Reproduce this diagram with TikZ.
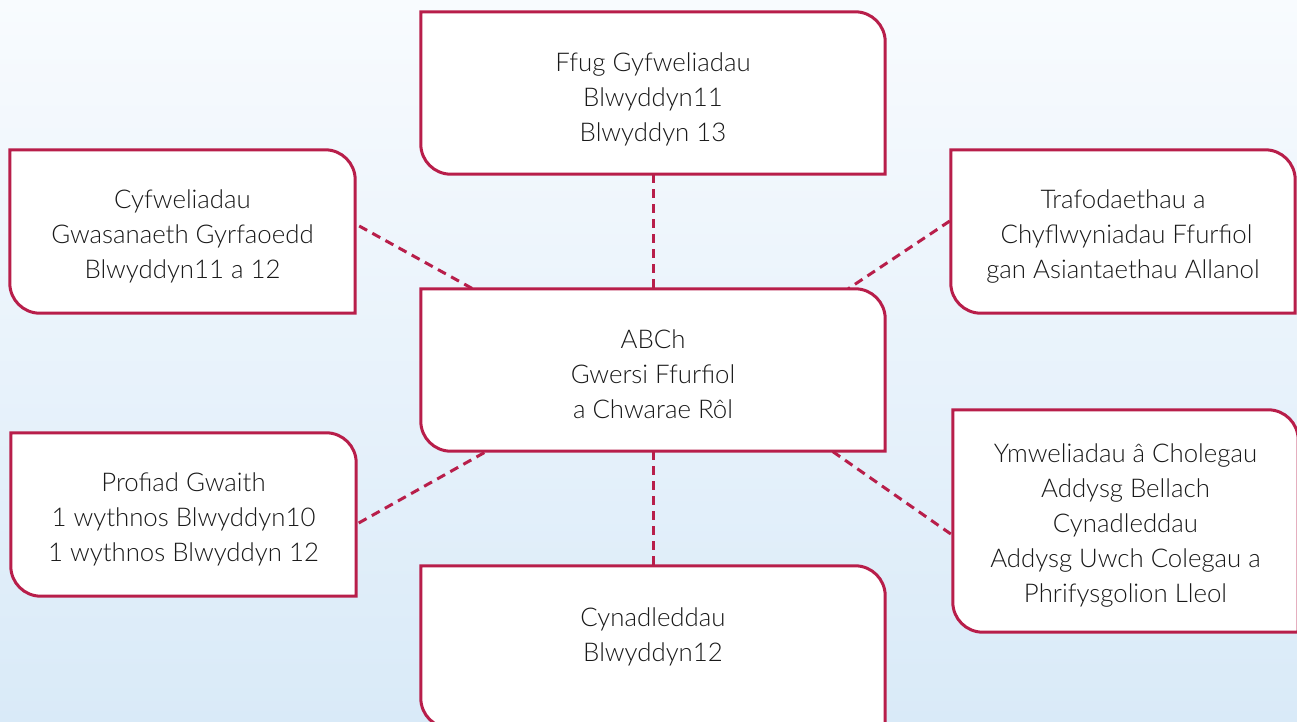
\documentclass[tikz,border=0pt]{standalone}
\usepackage{fontspec}
\setmainfont{Lato Light}
\usetikzlibrary{calc,backgrounds}
\pgfdeclarelayer{back0}
\pgfsetlayers{back0,background,main}
\definecolor{crim}{RGB}{184,30,74}
\definecolor{bgtop}{RGB}{248,251,254}
\definecolor{bgbot}{RGB}{217,234,248}
\definecolor{txt}{RGB}{25,25,25}
\newcommand\tstrut{\rule{0pt}{28pt}}
\tikzset{
  box/.style={draw=none, align=center, text=txt, inner sep=0pt,
    font=\fontsize{25.8}{35}\selectfont},
  outline/.style={draw=crim, line width=3pt, fill=white},
  link/.style={draw=crim, line width=3pt, dash pattern=on 9pt off 6pt},
}
\newcommand\boxpath[1]{%
  \path[outline] (#1.north west) -- ($(#1.north east)+(-30pt,0)$)
    arc[start angle=90,end angle=0,radius=30pt] -- (#1.south east)
    -- ($(#1.south west)+(30pt,0)$)
    arc[start angle=270,end angle=180,radius=30pt] -- cycle;}
\begin{document}
\begin{tikzpicture}[x=1pt,y=-1pt]
\useasboundingbox (0,0) rectangle (1297,722);
\begin{pgfonlayer}{back0}
\shade[top color=bgtop, bottom color=bgbot] (0,0) rectangle (1297,722);
\end{pgfonlayer}
\node[box, minimum width=464pt, minimum height=162pt] (top) at (653,93) {\rule{0pt}{31pt}Ffug Gyfweliadau\\Blwyddyn11\\Blwyddyn 13};
\node[box, minimum width=345pt, minimum height=163pt] (l1) at (182.5,231.5) {\rule{0pt}{29pt}Cyfweliadau\\Gwasanaeth Gyrfaoedd\\Blwyddyn11 a 12};
\node[box, minimum width=344pt, minimum height=163pt] (r1) at (1123,231.5) {\rule{0pt}{29pt}Trafodaethau a\\\ Chyflwyniadau Ffurfiol\\gan Asiantaethau Allanol};
\node[box, minimum width=464pt, minimum height=162pt] (ctr) at (653,370) {\tstrut ABCh\\Gwersi Ffurfiol\\a Chwarae Rôl};
\node[box, minimum width=345pt, minimum height=163pt] (l2) at (183.5,514.5) {\tstrut Profiad Gwaith\\1 wythnos Blwyddyn10\\1 wythnos Blwyddyn 12};
\node[box, minimum width=345pt, minimum height=222pt] (r2) at (1125.5,521) {\tstrut Ymweliadau â Cholegau\\Addysg Bellach\\Cynadleddau\\Addysg Uwch Colegau a\\Phrifysgolion Lleol};
\node[box, minimum width=464pt, minimum height=162pt] (bot) at (653,647) {\tstrut Cynadleddau\\Blwyddyn12\\[0pt]\mbox{}};
\begin{pgfonlayer}{background}
\foreach \n in {top,l1,r1,ctr,l2,r2,bot}{\boxpath{\n}}
\end{pgfonlayer}
\draw[link] (top.south) -- (ctr.north);
\draw[link] (ctr.south) -- (bot.north);
\draw[link] ($(l1.east)+(4pt,5.5pt)$) -- ($(ctr.north west)+(52pt,0)$);
\draw[link] ($(r1.west)+(-1pt,10.5pt)$) -- ($(ctr.north east)+(-37pt,0)$);
\draw[link] ($(l2.east)+(2.5pt,-8.5pt)$) -- ($(ctr.south west)+(66pt,0)$);
\draw[link] ($(r2.west)+(-2pt,-13pt)$) -- ($(ctr.south east)+(-53pt,0)$);
\end{tikzpicture}
\end{document}
